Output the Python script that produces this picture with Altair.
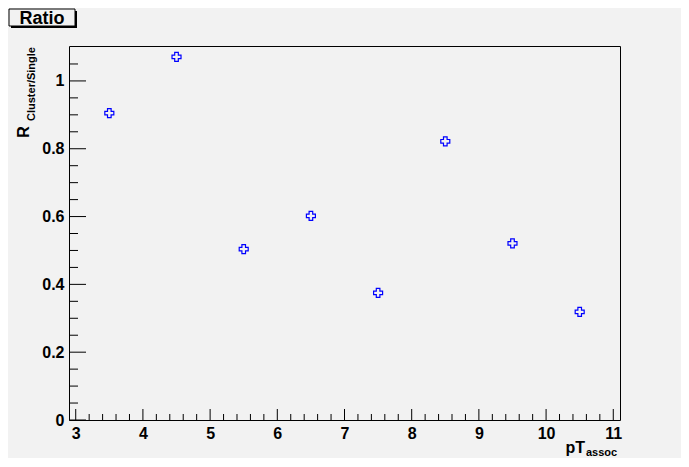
import altair as alt
import pandas as pd

# data
pt_assoc = [3.5, 4.5, 5.5, 6.5, 7.5, 8.5, 9.5, 10.5]
ratio = [0.905, 1.071, 0.504, 0.602, 0.375, 0.822, 0.521, 0.319]

x_major = [3, 4, 5, 6, 7, 8, 9, 10, 11]
y_major = [0, 0.2, 0.4, 0.6, 0.8, 1.0]
x_minor = [round(3 + 0.2 * i, 2) for i in range(41) if i % 5 != 0]
y_minor = [round(0.05 * i, 2) for i in range(22) if i % 4 != 0]

W, H = 551, 374
FONT = "Liberation Sans"
BG = "#f2f2f2"

xs = alt.Scale(domain=[2.9, 11.1], nice=False, zero=False)
ys = alt.Scale(domain=[0, 1.103], nice=False, zero=False)

xa = alt.Axis(
    values=x_major, ticks=False, domain=False, grid=False, title=None,
    labelFont=FONT, labelFontWeight="bold", labelFontSize=16, labelColor="black",
    labelPadding=5, labelFlush=False, labelOverlap=False)
ya = alt.Axis(
    values=y_major, ticks=False, domain=False, grid=False, title=None, format="~g",
    labelFont=FONT, labelFontWeight="bold", labelFontSize=16, labelColor="black",
    labelPadding=5, labelFlush=False, labelOverlap=False)

df = pd.DataFrame({"x": pt_assoc, "y": ratio})

points = alt.Chart(df).mark_point(
    shape="cross", filled=False, stroke="#0000ff", strokeWidth=1.2, size=81, opacity=1
).encode(
    x=alt.X("x:Q", scale=xs, axis=xa),
    y=alt.Y("y:Q", scale=ys, axis=ya),
)

xmaj = alt.Chart(pd.DataFrame({"x": x_major})).mark_rule(color="black", strokeWidth=1).encode(
    x=alt.X("x:Q", scale=xs, axis=xa), y=alt.value(H), y2=alt.value(H - 11))
xmin = alt.Chart(pd.DataFrame({"x": x_minor})).mark_rule(color="black", strokeWidth=1).encode(
    x=alt.X("x:Q", scale=xs, axis=xa), y=alt.value(H), y2=alt.value(H - 6))
ymaj = alt.Chart(pd.DataFrame({"y": y_major})).mark_rule(color="black", strokeWidth=1).encode(
    y=alt.Y("y:Q", scale=ys, axis=ya), x=alt.value(0), x2=alt.value(17))
ymin = alt.Chart(pd.DataFrame({"y": y_minor})).mark_rule(color="black", strokeWidth=1).encode(
    y=alt.Y("y:Q", scale=ys, axis=ya), x=alt.value(0), x2=alt.value(9))

# title box "Ratio"
shadow = alt.Chart(pd.DataFrame({"a": [0]})).mark_rect(color="black").encode(
    x=alt.value(-58), x2=alt.value(8), y=alt.value(-35), y2=alt.value(-18))
box = alt.Chart(pd.DataFrame({"a": [0]})).mark_rect(fill=BG, stroke="black", strokeWidth=1).encode(
    x=alt.value(-60), x2=alt.value(6), y=alt.value(-37), y2=alt.value(-20))
title = alt.Chart(pd.DataFrame({"t": ["Ratio"]})).mark_text(
    font=FONT, fontWeight="bold", fontSize=18, color="black", align="center", baseline="alphabetic"
).encode(text="t:N", x=alt.value(-27), y=alt.value(-22.5))

# y axis title R_{Cluster/Single}
yR = alt.Chart(pd.DataFrame({"t": ["R"]})).mark_text(
    font=FONT, fontWeight="bold", fontSize=16, color="black", angle=270,
    align="center", baseline="middle"
).encode(text="t:N", x=alt.value(-45), y=alt.value(86))
ySub = alt.Chart(pd.DataFrame({"t": ["Cluster/Single"]})).mark_text(
    font=FONT, fontWeight="bold", fontSize=11, color="black", angle=270,
    align="center", baseline="middle"
).encode(text="t:N", x=alt.value(-37), y=alt.value(38))

# x axis title pT_{assoc}
xT = alt.Chart(pd.DataFrame({"t": ["pT"]})).mark_text(
    font=FONT, fontWeight="bold", fontSize=16, color="black", align="right", baseline="alphabetic"
).encode(text="t:N", x=alt.value(516), y=alt.value(407))
xSub = alt.Chart(pd.DataFrame({"t": ["assoc"]})).mark_text(
    font=FONT, fontWeight="bold", fontSize=11, color="black", align="left", baseline="alphabetic"
).encode(text="t:N", x=alt.value(517), y=alt.value(410))

chart = alt.layer(
    xmaj, xmin, ymaj, ymin, points, shadow, box, title, yR, ySub, xT, xSub
).properties(
    width=W, height=H, background=BG, autosize="none",
    padding={"left": 61, "top": 38, "right": 61, "bottom": 38},
).configure_view(stroke="black", strokeWidth=1, fill=BG)

chart.save("out.html", embed_options={"renderer": "svg", "actions": False})
